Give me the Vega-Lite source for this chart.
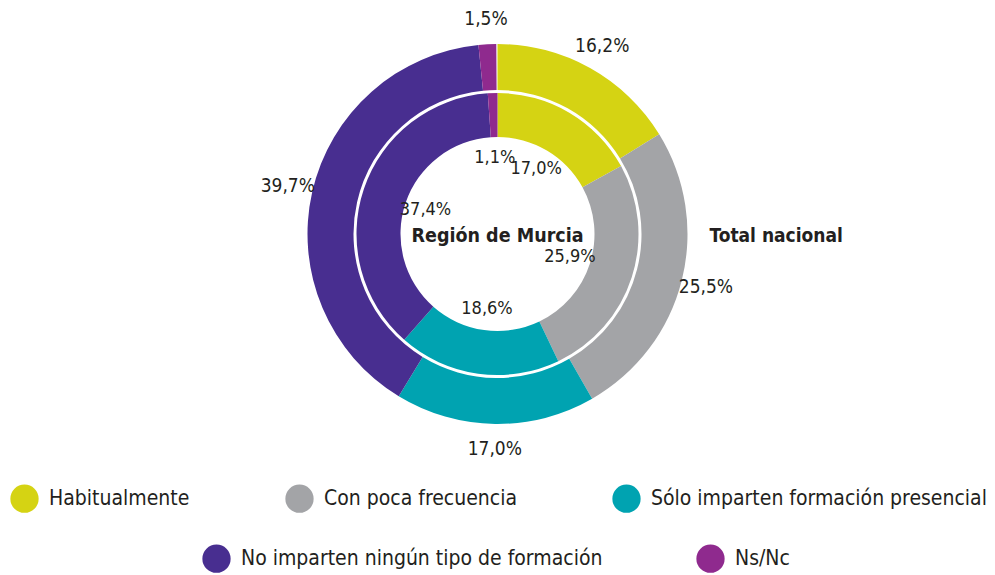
{
  "$schema": "https://vega.github.io/schema/vega-lite/v6.json",
  "width": 995,
  "height": 468,
  "autosize": {"type": "none"},
  "padding": {"left": 0, "right": 0, "top": 0, "bottom": 107},
  "background": "white",
  "config": {
    "view": {"stroke": null},
    "font": "Liberation Sans Narrow, DejaVu Sans Condensed, Liberation Sans, sans-serif"
  },
  "datasets": {
    "nacional": [
      {"categoria": "Habitualmente", "orden": 1, "valor": 16.2, "etiqueta": "16,2%"},
      {"categoria": "Con poca frecuencia", "orden": 2, "valor": 25.5, "etiqueta": "25,5%"},
      {"categoria": "Sólo imparten formación presencial", "orden": 3, "valor": 17.0, "etiqueta": "17,0%"},
      {"categoria": "No imparten ningún tipo de formación", "orden": 4, "valor": 39.7, "etiqueta": "39,7%"},
      {"categoria": "Ns/Nc", "orden": 5, "valor": 1.5, "etiqueta": "1,5%"}
    ],
    "murcia": [
      {"categoria": "Habitualmente", "orden": 1, "valor": 17.0, "etiqueta": "17,0%"},
      {"categoria": "Con poca frecuencia", "orden": 2, "valor": 25.9, "etiqueta": "25,9%"},
      {"categoria": "Sólo imparten formación presencial", "orden": 3, "valor": 18.6, "etiqueta": "18,6%"},
      {"categoria": "No imparten ningún tipo de formación", "orden": 4, "valor": 37.4, "etiqueta": "37,4%"},
      {"categoria": "Ns/Nc", "orden": 5, "valor": 1.1, "etiqueta": "1,1%"}
    ],
    "titulos": [
      {"titulo": "Región de Murcia"}
    ],
    "titulos2": [
      {"titulo": "Total nacional"}
    ]
  },
  "layer": [
    {
      "data": {"name": "nacional"},
      "mark": {"type": "arc", "radius": 190, "radius2": 144},
      "encoding": {
        "theta": {"field": "valor", "type": "quantitative", "stack": true},
        "order": {"field": "orden", "type": "quantitative"},
        "color": {
          "field": "categoria",
          "type": "nominal",
          "scale": {
            "domain": ["Habitualmente", "Con poca frecuencia", "Sólo imparten formación presencial", "No imparten ningún tipo de formación", "Ns/Nc"],
            "range": ["#d5d313", "#a3a4a7", "#00a3b1", "#482e90", "#8f2a8e"]
          },
          "legend": {
            "values": ["Habitualmente", "Con poca frecuencia", "Sólo imparten formación presencial"],
            "orient": "none",
            "legendX": 10,
            "legendY": 484,
            "direction": "horizontal",
            "title": null,
            "symbolType": "circle",
            "symbolSize": 800,
            "symbolStrokeWidth": 0,
            "symbolOpacity": 1,
            "labelFontSize": 21,
            "labelColor": "#231f20",
            "labelOffset": 10,
            "labelLimit": 500,
            "columnPadding": 95
          }
        }
      }
    },
    {
      "data": {"name": "murcia"},
      "mark": {"type": "arc", "radius": 141, "radius2": 97},
      "encoding": {
        "theta": {"field": "valor", "type": "quantitative", "stack": true},
        "order": {"field": "orden", "type": "quantitative"},
        "fill": {
          "field": "categoria",
          "type": "nominal",
          "scale": {
            "domain": ["Ns/Nc", "No imparten ningún tipo de formación", "Sólo imparten formación presencial", "Con poca frecuencia", "Habitualmente"],
            "range": ["#8f2a8e", "#482e90", "#00a3b1", "#a3a4a7", "#d5d313"]
          },
          "legend": {
            "values": ["No imparten ningún tipo de formación", "Ns/Nc"],
            "orient": "none",
            "legendX": 202,
            "legendY": 544,
            "direction": "horizontal",
            "title": null,
            "symbolType": "circle",
            "symbolSize": 800,
            "symbolStrokeWidth": 0,
            "symbolOpacity": 1,
            "labelFontSize": 21,
            "labelColor": "#231f20",
            "labelOffset": 10,
            "labelLimit": 500,
            "columnPadding": 93
          }
        }
      }
    },
    {
      "data": {"name": "nacional"},
      "mark": {"type": "text", "radius": 215, "fontSize": 19, "color": "#231f20", "align": "center", "baseline": "middle"},
      "encoding": {
        "theta": {"field": "valor", "type": "quantitative", "stack": true},
        "order": {"field": "orden", "type": "quantitative"},
        "text": {"field": "etiqueta", "type": "nominal"}
      }
    },
    {
      "data": {"name": "murcia"},
      "mark": {"type": "text", "radius": 76, "fontSize": 18, "color": "#231f20", "align": "center", "baseline": "middle"},
      "encoding": {
        "theta": {"field": "valor", "type": "quantitative", "stack": true},
        "order": {"field": "orden", "type": "quantitative"},
        "text": {"field": "etiqueta", "type": "nominal"}
      }
    },
    {
      "data": {"name": "titulos"},
      "mark": {"type": "text", "fontSize": 19.5, "fontWeight": "bold", "color": "#231f20", "align": "center", "baseline": "middle", "dy": 2},
      "encoding": {
        "text": {"field": "titulo", "type": "nominal"}
      }
    },
    {
      "data": {"name": "titulos2"},
      "mark": {"type": "text", "fontSize": 19, "fontWeight": "bold", "color": "#231f20", "align": "left", "baseline": "middle", "theta": 1.5708, "radius": 212, "dy": 2},
      "encoding": {
        "text": {"field": "titulo", "type": "nominal"}
      }
    }
  ]
}
